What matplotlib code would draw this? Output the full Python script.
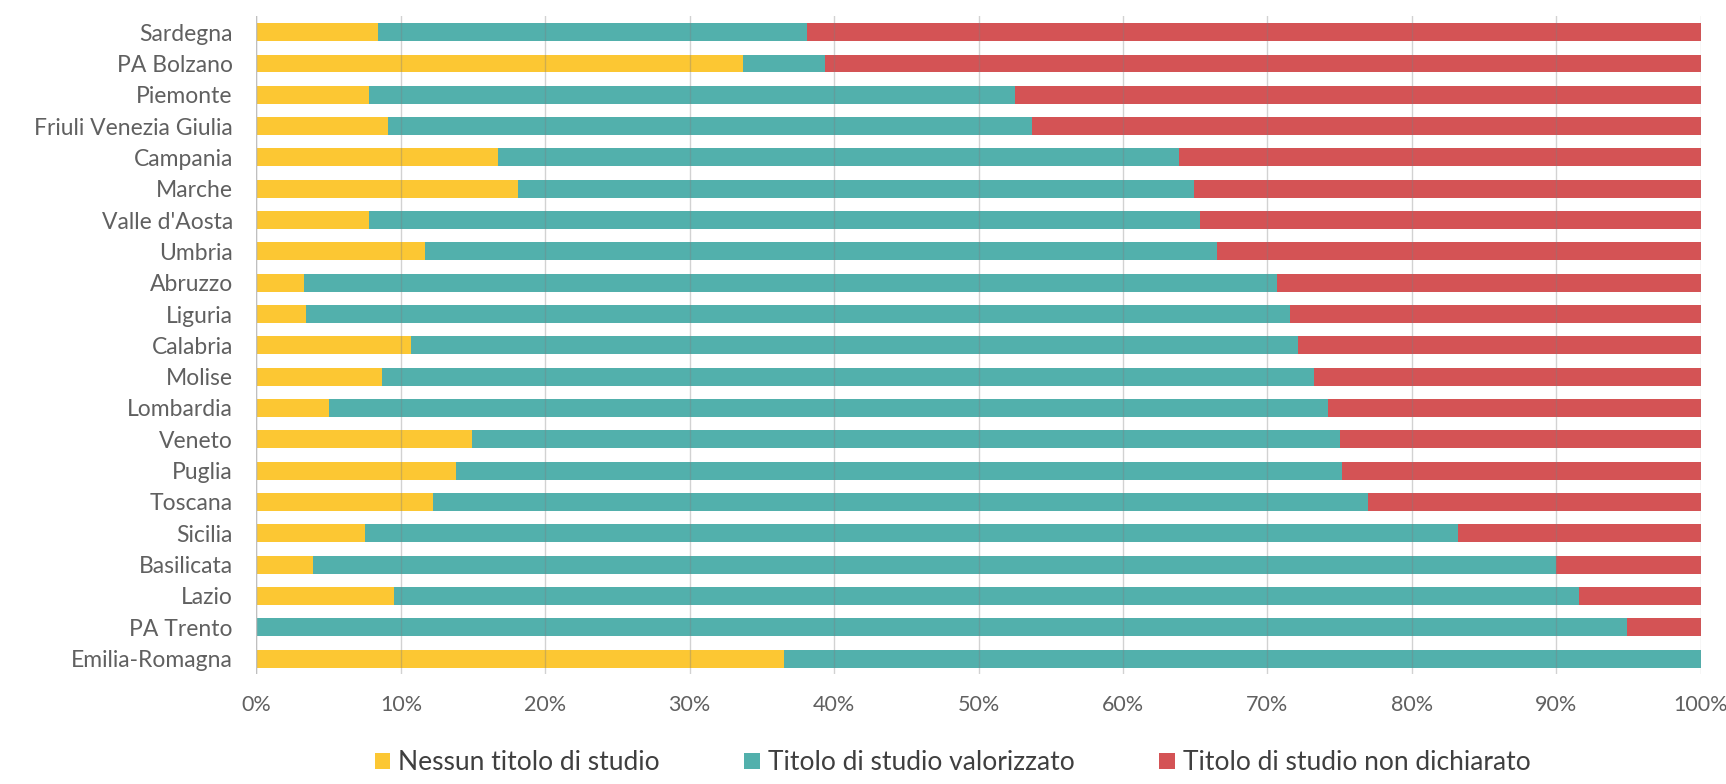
import numpy as np
import matplotlib
matplotlib.use("Agg")
import matplotlib.pyplot as plt
from matplotlib.ticker import PercentFormatter

plt.rcParams['font.family'] = ['Lato', 'DejaVu Sans']

regioni = ["Sardegna", "PA Bolzano", "Piemonte", "Friuli Venezia Giulia", "Campania",
           "Marche", "Valle d'Aosta", "Umbria", "Abruzzo", "Liguria", "Calabria",
           "Molise", "Lombardia", "Veneto", "Puglia", "Toscana", "Sicilia",
           "Basilicata", "Lazio", "PA Trento", "Emilia-Romagna"]

# quote percentuali per regione
nessun_titolo = [8.4, 33.7, 7.8, 9.1, 16.7, 18.1, 7.8, 11.7, 3.3, 3.4, 10.7,
                 8.7, 5.0, 14.9, 13.8, 12.2, 7.5, 3.9, 9.5, 0.0, 36.5]
titolo_valorizzato = [29.7, 5.7, 44.7, 44.6, 47.2, 46.8, 57.5, 54.8, 67.4, 68.2, 61.4,
                      64.5, 69.2, 60.1, 61.4, 64.8, 75.7, 86.1, 82.1, 94.9, 63.5]
non_dichiarato = [61.9, 60.6, 47.5, 46.3, 36.1, 35.1, 34.7, 33.5, 29.3, 28.4, 27.9,
                  26.8, 25.8, 25.0, 24.8, 23.0, 16.8, 10.0, 8.4, 5.1, 0.0]

serie = ["Nessun titolo di studio", "Titolo di studio valorizzato", "Titolo di studio non dichiarato"]
colori = ["#FCC733", "#52B0AC", "#D45355"]

fig = plt.figure(figsize=(17.26, 7.84), dpi=100)
ax = fig.add_axes([0.1486, 0.140, 0.8367, 0.839])

y = np.arange(len(regioni))
left = np.zeros(len(regioni))
for vals, nome, col in zip([nessun_titolo, titolo_valorizzato, non_dichiarato], serie, colori):
    vals = np.array(vals)
    ax.barh(y, vals, left=left, height=0.57, color=col, label=nome, zorder=2)
    left = left + vals

ax.set_xlim(0, 100)
ax.set_ylim(len(regioni) - 0.5, -0.5)
ax.set_xticks(np.arange(0, 101, 10))
ax.xaxis.set_major_formatter(PercentFormatter(decimals=0))
ax.set_yticks(y)
ax.set_yticklabels(regioni)

# griglia verticale sopra le barre
ax.grid(axis='x', color='#7f7f7f', alpha=0.35, linewidth=1.0, zorder=3)
ax.set_axisbelow(False)
for s in ax.spines.values():
    s.set_visible(False)
ax.axvline(0, color='#bfbfbf', linewidth=1.0, zorder=3)

ax.tick_params(axis='both', length=0, labelsize=16.5, colors='#606060')
ax.tick_params(axis='x', pad=15, labelsize=15.5)
ax.tick_params(axis='y', pad=17)

leg = fig.legend(loc='center', bbox_to_anchor=(0.552, 0.027), ncol=3, frameon=False,
                 fontsize=19, handlelength=0.6, handleheight=0.6, handletextpad=0.3,
                 columnspacing=3.2)
for t in leg.get_texts():
    t.set_color('#3f3f3f')

fig.savefig("out.png", dpi=100)
